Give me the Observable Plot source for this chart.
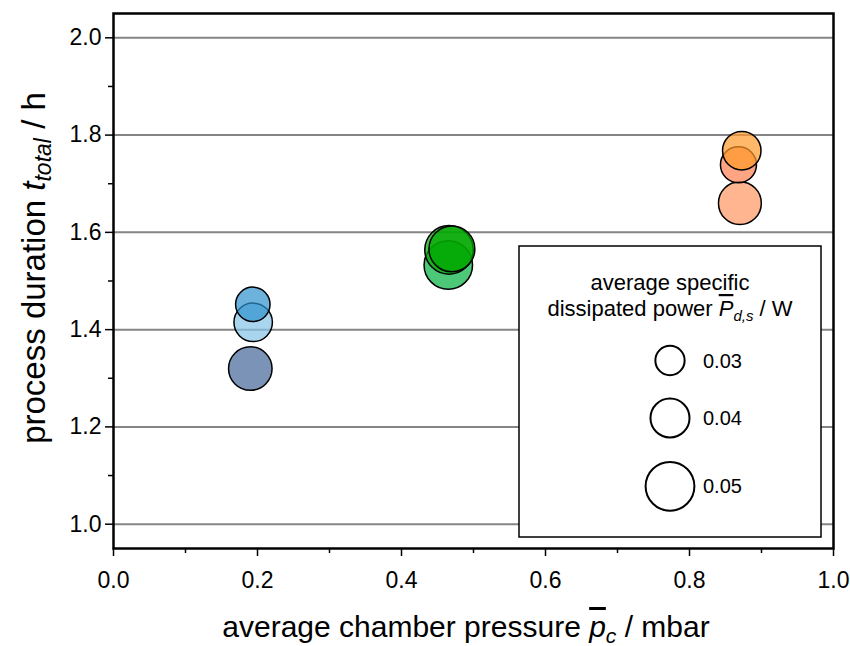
<!DOCTYPE html>
<html><head><meta charset="utf-8">
<script src="https://cdn.jsdelivr.net/npm/d3@7"></script>
<script src="https://cdn.jsdelivr.net/npm/@observablehq/plot@0.6"></script>
<style>
body{margin:0;background:#fff;}
#chart svg{display:block;}
</style>
</head><body><div id="chart"></div>
<script>
// data (in drawing order)
const series   = ["b2","b1","b3","g3","g1","g2","o3","o2","o1"];
const pressure = [0.194, 0.1935, 0.190, 0.465, 0.466, 0.470, 0.870, 0.868, 0.8726];
const duration = [1.415, 1.452, 1.320, 1.533, 1.564, 1.566, 1.660, 1.739, 1.768];
const power    = [0.0394, 0.0353, 0.0446, 0.0497, 0.0497, 0.0470, 0.0439, 0.0369, 0.0394];
const legendPower = [0.03, 0.04, 0.05];
const yTicks = [1.0, 1.2, 1.4, 1.6, 1.8, 2.0];
const yMinor = [1.1, 1.3, 1.5, 1.7, 1.9];
const xTicks = [0.0, 0.2, 0.4, 0.6, 0.8, 1.0];
const xMinor = [0.1, 0.3, 0.5, 0.7, 0.9];

const seriesColors = ["#84C3E8","#2D91CD","#416597","#00B03E","#00A800","#00A800","#FF9560","#FF7F50","#FF9A2A"];

const data = series.map((s, i) => ({s, p: pressure[i], t: duration[i], w: power[i]}));
const font = "'Liberation Sans', Arial, sans-serif";

const plot = Plot.plot({
  width: 850, height: 646,
  marginLeft: 113, marginRight: 17, marginTop: 13, marginBottom: 98,
  style: {fontFamily: font, fontSize: "20px", color: "black", background: "white"},
  x: {domain: [0, 1], label: null},
  y: {domain: [0.95, 2.05], label: null},
  r: {type: "linear", domain: [0, 0.05], range: [0, 24.4]},
  color: {type: "ordinal", domain: series, range: seriesColors},
  marks: [
    Plot.ruleY(yTicks, {stroke: "#858585", strokeWidth: 2}),
    Plot.axisY(yTicks, {tickSize: 8, tickPadding: 4, tickFormat: d3.format(".1f"), fontSize: 23, strokeWidth: 1.5, label: null}),
    Plot.axisY(yMinor, {tickSize: 5, tickFormat: () => "", strokeWidth: 1.5, label: null}),
    Plot.axisX(xTicks, {tickSize: 8, tickPadding: 15, tickFormat: d3.format(".1f"), fontSize: 23, strokeWidth: 1.5, label: null}),
    Plot.axisX(xMinor, {tickSize: 5, tickFormat: () => "", strokeWidth: 1.5, label: null}),
    Plot.dot(data, {x: "p", y: "t", r: "w", fill: "s", fillOpacity: 0.7, stroke: "black", strokeWidth: 1.5, sort: null}),
    Plot.frame({stroke: "black", strokeWidth: 2.5})
  ]
});
document.getElementById("chart").appendChild(plot);

const svg = d3.select(plot);
const rScale = plot.scale("r");

// Y axis title
const yl = svg.append("text")
  .attr("transform", "translate(45,268) rotate(-90)")
  .attr("text-anchor", "middle")
  .style("font-family", font).style("font-size", "33px").attr("fill", "black");
yl.append("tspan").text("process duration ");
yl.append("tspan").style("font-style", "italic").text("t");
yl.append("tspan").style("font-style", "italic").style("font-size", "23px").attr("dy", 6).text("total");
yl.append("tspan").attr("dy", -6).text(" / h");

// X axis title
const xl = svg.append("text")
  .attr("x", 466).attr("y", 637)
  .attr("text-anchor", "middle")
  .style("font-family", font).style("font-size", "30px").attr("fill", "black");
xl.append("tspan").text("average chamber pressure ");
xl.append("tspan").style("font-style", "italic").style("text-decoration", "overline").text("p");
xl.append("tspan").style("font-style", "italic").style("font-size", "21px").attr("dy", 6).text("c");
xl.append("tspan").attr("dy", -6).text(" / mbar");

// Size legend
const lg = svg.append("g").style("font-family", font);
lg.append("rect").attr("x", 519).attr("y", 246).attr("width", 302).attr("height", 291)
  .attr("fill", "white").attr("stroke", "black").attr("stroke-width", 1.5);
lg.append("text").attr("x", 670).attr("y", 290).attr("text-anchor", "middle")
  .style("font-size", "22px").attr("fill", "black").text("average specific");
const lt = lg.append("text").attr("x", 670).attr("y", 316).attr("text-anchor", "middle")
  .style("font-size", "22px").attr("fill", "black");
lt.append("tspan").text("dissipated power ");
lt.append("tspan").style("font-style", "italic").style("text-decoration", "overline").text("P");
lt.append("tspan").style("font-style", "italic").style("font-size", "15px").attr("dy", 5).text("d,s");
lt.append("tspan").attr("dy", -5).text(" / W");
const legendY = [360.5, 418, 486.3];
legendPower.forEach((v, i) => {
  lg.append("circle").attr("cx", 670).attr("cy", legendY[i]).attr("r", rScale.apply(v))
    .attr("fill", "none").attr("stroke", "black").attr("stroke-width", 2);
  lg.append("text").attr("x", 703).attr("y", legendY[i] + 7).attr("text-anchor", "start")
    .style("font-size", "20px").attr("fill", "black").text(d3.format(".2f")(v));
});
</script>
</body></html>
